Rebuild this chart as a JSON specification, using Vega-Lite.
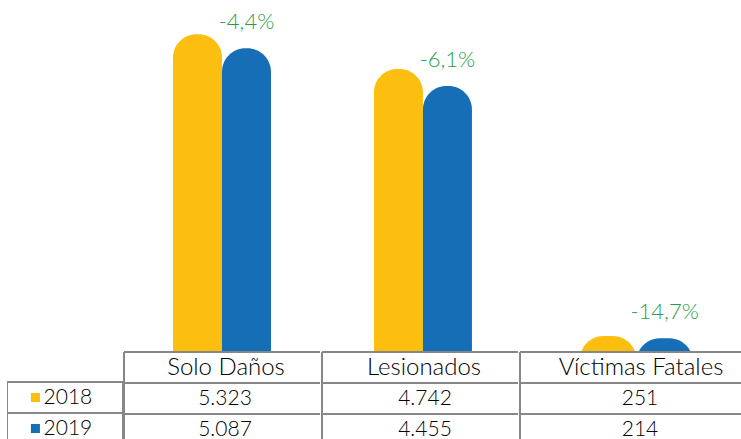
{
  "$schema": "https://vega.github.io/schema/vega-lite/v6.json",
  "padding": {"left": 7, "top": 0, "right": 0, "bottom": 0},
  "config": {
    "view": {"stroke": null},
    "axis": {"disable": true},
    "legend": {"disable": true},
    "concat": {"spacing": 0},
    "text": {"font": "Lato"}
  },
  "datasets": {
    "bars": [
      {"cat": "Solo Daños", "year": "2018", "value": 5323, "change": ""},
      {"cat": "Solo Daños", "year": "2019", "value": 5087, "change": "-4,4%"},
      {"cat": "Lesionados", "year": "2018", "value": 4742, "change": ""},
      {"cat": "Lesionados", "year": "2019", "value": 4455, "change": "-6,1%"},
      {"cat": "Víctimas Fatales", "year": "2018", "value": 251, "change": ""},
      {"cat": "Víctimas Fatales", "year": "2019", "value": 214, "change": "-14,7%"}
    ],
    "table": [
      {"cat": "Solo Daños", "row": "header", "text": "Solo Daños"},
      {"cat": "Solo Daños", "row": "2018", "text": "5.323"},
      {"cat": "Solo Daños", "row": "2019", "text": "5.087"},
      {"cat": "Lesionados", "row": "header", "text": "Lesionados"},
      {"cat": "Lesionados", "row": "2018", "text": "4.742"},
      {"cat": "Lesionados", "row": "2019", "text": "4.455"},
      {"cat": "Víctimas Fatales", "row": "header", "text": "Víctimas Fatales"},
      {"cat": "Víctimas Fatales", "row": "2018", "text": "251"},
      {"cat": "Víctimas Fatales", "row": "2019", "text": "214"}
    ]
  },
  "hconcat": [
    {
      "vconcat": [
        {
          "width": 116, "height": 351,
          "data": {"values": [{}]},
          "mark": {"type": "text"},
          "encoding": {"text": {"value": ""}}
        },
        {
          "width": 116, "height": 88,
          "data": {"name": "bars"},
          "transform": [{"filter": "datum.cat === 'Solo Daños'"}],
          "layer": [
            {
              "mark": {"type": "rect", "fill": "transparent", "stroke": "#878787", "strokeWidth": 2, "clip": true},
              "encoding": {
                "x": {"field": "cat", "type": "nominal", "scale": {"paddingInner": 0, "paddingOuter": 0}},
                "y": {"field": "year", "type": "nominal", "scale": {"domain": ["header", "2018", "2019"], "range": [0, 93], "paddingInner": 0, "paddingOuter": 0}}
              }
            },
            {
              "mark": {"type": "point", "shape": "square", "filled": true, "size": 81, "opacity": 1},
              "encoding": {
                "x": {"field": "cat", "type": "nominal", "bandPosition": 0.245},
                "y": {"field": "year", "type": "nominal"},
                "color": {"field": "year", "type": "nominal", "scale": {"domain": ["2018", "2019"], "range": ["#FCBF10", "#166FB6"]}}
              }
            },
            {
              "mark": {"type": "text", "align": "left", "baseline": "middle", "fontSize": 21, "fontWeight": 300, "color": "#000000"},
              "encoding": {
                "x": {"field": "cat", "type": "nominal", "bandPosition": 0.315},
                "y": {"field": "year", "type": "nominal"},
                "text": {"field": "year"}
              }
            }
          ],
          "resolve": {"scale": {"color": "independent"}}
        }
      ],
      "resolve": {"scale": {"x": "independent", "y": "independent"}}
    },
    {
      "vconcat": [
        {
          "width": 196, "height": 351,
          "data": {"name": "bars"},
          "transform": [{"filter": "datum.cat === 'Solo Daños'"}],
          "layer": [
            {
              "mark": {"type": "bar", "cornerRadiusTopLeft": 23.5, "cornerRadiusTopRight": 23.5, "clip": true},
              "encoding": {
                "x": {"field": "year", "type": "nominal", "scale": {"domain": ["2018", "2019"], "paddingInner": 0, "paddingOuter": 1.085, "align": 0.5}},
                "y": {"field": "value", "type": "quantitative", "scale": {"domain": [0, 5900], "nice": false}},
                "y2": {"datum": -2000},
                "color": {"field": "year", "type": "nominal", "scale": {"domain": ["2018", "2019"], "range": ["#FCBF10", "#166FB6"]}}
              }
            },
            {
              "transform": [{"filter": "datum.year === '2019'"}],
              "mark": {"type": "text", "baseline": "alphabetic", "dy": -19, "fontSize": 22, "fontWeight": 300, "color": "#1FA046"},
              "encoding": {
                "x": {"field": "year", "type": "nominal"},
                "y": {"field": "value", "type": "quantitative"},
                "text": {"field": "change"}
              }
            }
          ]
        },
        {
          "width": 196, "height": 88,
          "data": {"name": "table"},
          "transform": [{"filter": "datum.cat === 'Solo Daños'"}],
          "layer": [
            {
              "mark": {"type": "rule", "color": "#878787", "strokeWidth": 2},
              "encoding": {
                "y": {"field": "row", "type": "nominal", "bandPosition": 0, "scale": {"domain": ["header", "2018", "2019"], "range": [0, 93], "paddingInner": 0, "paddingOuter": 0}}
              }
            },
            {
              "mark": {"type": "rule", "color": "#878787", "strokeWidth": 2},
              "encoding": {
                "x": {"field": "cat", "type": "nominal", "bandPosition": 0, "scale": {"paddingInner": 0, "paddingOuter": 0}}
              }
            },
            {
              "transform": [{"filter": "datum.row === 'header'"}],
              "mark": {"type": "text", "baseline": "middle", "fontSize": 24, "fontWeight": 300, "color": "#000000", "dx": 4},
              "encoding": {
                "x": {"field": "cat", "type": "nominal"},
                "y": {"field": "row", "type": "nominal"},
                "text": {"field": "text"}
              }
            },
            {
              "transform": [{"filter": "datum.row !== 'header'"}],
              "mark": {"type": "text", "baseline": "middle", "fontSize": 21, "fontWeight": 300, "color": "#000000", "dx": 3},
              "encoding": {
                "x": {"field": "cat", "type": "nominal"},
                "y": {"field": "row", "type": "nominal"},
                "text": {"field": "text"}
              }
            }
          ]
        }
      ],
      "resolve": {"scale": {"x": "independent", "y": "independent"}}
    },
    {
      "vconcat": [
        {
          "width": 196, "height": 351,
          "data": {"name": "bars"},
          "transform": [{"filter": "datum.cat === 'Lesionados'"}],
          "layer": [
            {
              "mark": {"type": "bar", "cornerRadiusTopLeft": 23.5, "cornerRadiusTopRight": 23.5, "clip": true},
              "encoding": {
                "x": {"field": "year", "type": "nominal", "scale": {"domain": ["2018", "2019"], "paddingInner": 0, "paddingOuter": 1.085, "align": 0.53}},
                "y": {"field": "value", "type": "quantitative", "scale": {"domain": [0, 5900], "nice": false}},
                "y2": {"datum": -2000},
                "color": {"field": "year", "type": "nominal", "scale": {"domain": ["2018", "2019"], "range": ["#FCBF10", "#166FB6"]}}
              }
            },
            {
              "transform": [{"filter": "datum.year === '2019'"}],
              "mark": {"type": "text", "baseline": "alphabetic", "dy": -19, "fontSize": 22, "fontWeight": 300, "color": "#1FA046"},
              "encoding": {
                "x": {"field": "year", "type": "nominal"},
                "y": {"field": "value", "type": "quantitative"},
                "text": {"field": "change"}
              }
            }
          ]
        },
        {
          "width": 196, "height": 88,
          "data": {"name": "table"},
          "transform": [{"filter": "datum.cat === 'Lesionados'"}],
          "layer": [
            {
              "mark": {"type": "rule", "color": "#878787", "strokeWidth": 2},
              "encoding": {
                "y": {"field": "row", "type": "nominal", "bandPosition": 0, "scale": {"domain": ["header", "2018", "2019"], "range": [0, 93], "paddingInner": 0, "paddingOuter": 0}}
              }
            },
            {
              "mark": {"type": "rule", "color": "#878787", "strokeWidth": 2},
              "encoding": {
                "x": {"field": "cat", "type": "nominal", "bandPosition": 0, "scale": {"paddingInner": 0, "paddingOuter": 0}}
              }
            },
            {
              "transform": [{"filter": "datum.row === 'header'"}],
              "mark": {"type": "text", "baseline": "middle", "fontSize": 24, "fontWeight": 300, "color": "#000000", "dx": 4},
              "encoding": {
                "x": {"field": "cat", "type": "nominal"},
                "y": {"field": "row", "type": "nominal"},
                "text": {"field": "text"}
              }
            },
            {
              "transform": [{"filter": "datum.row !== 'header'"}],
              "mark": {"type": "text", "baseline": "middle", "fontSize": 21, "fontWeight": 300, "color": "#000000", "dx": 5},
              "encoding": {
                "x": {"field": "cat", "type": "nominal"},
                "y": {"field": "row", "type": "nominal"},
                "text": {"field": "text"}
              }
            }
          ]
        }
      ],
      "resolve": {"scale": {"x": "independent", "y": "independent"}}
    },
    {
      "vconcat": [
        {
          "width": 226, "height": 351,
          "data": {"name": "bars"},
          "transform": [{"filter": "datum.cat === 'Víctimas Fatales'"}],
          "layer": [
            {
              "mark": {"type": "bar", "cornerRadiusTopLeft": 23.5, "cornerRadiusTopRight": 23.5, "clip": true},
              "encoding": {
                "x": {"field": "year", "type": "nominal", "scale": {"domain": ["2018", "2019"], "paddingInner": 0, "paddingOuter": 1.404, "align": 0.53}},
                "y": {"field": "value", "type": "quantitative", "scale": {"domain": [0, 5900], "nice": false}},
                "y2": {"datum": -2000},
                "color": {"field": "year", "type": "nominal", "scale": {"domain": ["2018", "2019"], "range": ["#FCBF10", "#166FB6"]}}
              }
            },
            {
              "transform": [{"filter": "datum.year === '2019'"}],
              "mark": {"type": "text", "baseline": "alphabetic", "dy": -19, "fontSize": 22, "fontWeight": 300, "color": "#1FA046"},
              "encoding": {
                "x": {"field": "year", "type": "nominal"},
                "y": {"field": "value", "type": "quantitative"},
                "text": {"field": "change"}
              }
            }
          ]
        },
        {
          "width": 226, "height": 88,
          "data": {"name": "table"},
          "transform": [{"filter": "datum.cat === 'Víctimas Fatales'"}],
          "layer": [
            {
              "mark": {"type": "rule", "color": "#878787", "strokeWidth": 2},
              "encoding": {
                "y": {"field": "row", "type": "nominal", "bandPosition": 0, "scale": {"domain": ["header", "2018", "2019"], "range": [0, 93], "paddingInner": 0, "paddingOuter": 0}}
              }
            },
            {
              "mark": {"type": "rule", "color": "#878787", "strokeWidth": 2},
              "encoding": {
                "x": {"field": "cat", "type": "nominal", "bandPosition": 0, "scale": {"paddingInner": 0, "paddingOuter": 0}}
              }
            },
            {
              "transform": [{"filter": "datum.row === 'header'"}],
              "mark": {"type": "text", "baseline": "middle", "fontSize": 24, "fontWeight": 300, "color": "#000000", "dx": 8},
              "encoding": {
                "x": {"field": "cat", "type": "nominal"},
                "y": {"field": "row", "type": "nominal"},
                "text": {"field": "text"}
              }
            },
            {
              "transform": [{"filter": "datum.row !== 'header'"}],
              "mark": {"type": "text", "baseline": "middle", "fontSize": 21, "fontWeight": 300, "color": "#000000", "dx": 7},
              "encoding": {
                "x": {"field": "cat", "type": "nominal"},
                "y": {"field": "row", "type": "nominal"},
                "text": {"field": "text"}
              }
            }
          ]
        }
      ],
      "resolve": {"scale": {"x": "independent", "y": "independent"}}
    }
  ],
  "resolve": {"scale": {"x": "independent", "y": "independent"}}
}
